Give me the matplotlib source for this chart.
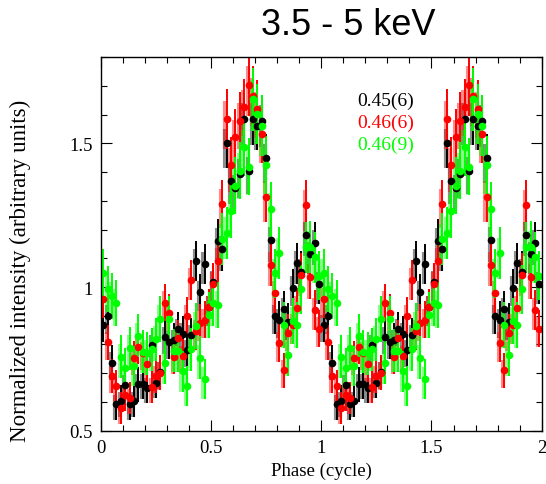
import numpy as np
import matplotlib
matplotlib.use("Agg")
import matplotlib.pyplot as plt
from matplotlib.ticker import MultipleLocator, FormatStrFormatter

# 50 phase bins per cycle, profile repeated over two cycles
nbins = 50
phase = (np.arange(nbins) + 0.5) / nbins

black = [0.868, 0.900, 0.737, 0.592, 0.603, 0.659, 0.592, 0.603, 0.661, 0.664,
         0.650, 0.797, 0.667, 0.704, 0.826, 0.810, 0.815, 0.853, 0.838, 0.780,
         0.832, 1.091, 0.981, 1.080, 0.929, 1.016, 1.161, 1.132, 1.500, 1.370,
         1.343, 1.395, 1.585, 1.405, 1.585, 1.562, 1.579, 1.448, 1.163, 0.900,
         0.886, 0.922, 0.879, 0.998, 1.082, 1.054, 1.182, 1.114, 1.152, 1.010]
black_err = [0.06, 0.065, 0.06, 0.055, 0.055, 0.055, 0.055, 0.055, 0.06, 0.055,
             0.055, 0.06, 0.055, 0.06, 0.06, 0.06, 0.06, 0.06, 0.06, 0.06,
             0.06, 0.07, 0.065, 0.07, 0.065, 0.065, 0.075, 0.075, 0.085, 0.08,
             0.08, 0.085, 0.09, 0.08, 0.09, 0.085, 0.09, 0.085, 0.075, 0.065,
             0.065, 0.065, 0.065, 0.065, 0.07, 0.07, 0.075, 0.07, 0.075, 0.07]

red = [0.958, 0.807, 0.690, 0.656, 0.578, 0.624, 0.613, 0.752, 0.792, 0.772,
       0.731, 0.652, 0.690, 0.702, 0.946, 0.911, 0.757, 0.824, 0.760, 0.900,
       1.024, 0.847, 0.876, 0.886, 0.929, 1.012, 1.090, 1.289, 1.585, 1.426,
       1.521, 1.579, 1.625, 1.704, 1.666, 1.620, 1.533, 1.315, 1.077, 0.980,
       0.805, 0.710, 0.841, 0.867, 0.926, 1.042, 1.284, 1.035, 0.920, 0.855]
red_err = [0.065, 0.06, 0.06, 0.055, 0.055, 0.055, 0.055, 0.06, 0.06, 0.06,
           0.06, 0.055, 0.06, 0.06, 0.065, 0.065, 0.06, 0.06, 0.06, 0.065,
           0.07, 0.065, 0.065, 0.065, 0.065, 0.07, 0.075, 0.085, 0.105, 0.095,
           0.10, 0.10, 0.10, 0.11, 0.105, 0.10, 0.10, 0.09, 0.075, 0.07,
           0.065, 0.06, 0.065, 0.065, 0.07, 0.075, 0.09, 0.075, 0.07, 0.065]

green = [1.048, 0.992, 0.969, 0.946, 0.757, 0.717, 0.787, 0.725, 0.830, 0.774,
         0.769, 0.783, 0.818, 0.888, 0.737, 0.890, 0.778, 0.778, 0.706, 0.656,
         0.783, 0.865, 0.754, 0.679, 0.902, 0.946, 0.938, 1.167, 1.188, 1.265,
         1.353, 1.405, 1.486, 1.419, 1.654, 1.602, 1.562, 1.425, 1.270, 1.048,
         1.118, 0.868, 0.764, 0.882, 0.869, 0.992, 1.138, 1.140, 1.103, 1.039]
green_err = [0.085, 0.08, 0.08, 0.08, 0.075, 0.07, 0.075, 0.07, 0.075, 0.075,
             0.075, 0.075, 0.075, 0.08, 0.075, 0.08, 0.075, 0.075, 0.07, 0.07,
             0.075, 0.08, 0.075, 0.07, 0.08, 0.08, 0.08, 0.09, 0.09, 0.095,
             0.10, 0.10, 0.10, 0.10, 0.11, 0.105, 0.105, 0.10, 0.095, 0.085,
             0.09, 0.08, 0.075, 0.08, 0.08, 0.085, 0.09, 0.09, 0.09, 0.085]

labels = ["0.45(6)", "0.46(6)", "0.46(9)"]
colors = ["black", "#ff0000", "#00ff00"]
series = [(black, black_err), (red, red_err), (green, green_err)]

plt.rcParams['font.family'] = ['Liberation Serif', 'DejaVu Serif']

fig = plt.figure(figsize=(5.46, 4.85), dpi=100)
ax = fig.add_axes([0.185, 0.110, 0.807, 0.770])

x2 = np.concatenate([phase, phase + 1])
for (vals, errs), c in zip(series, colors):
    y2 = np.concatenate([vals, vals])
    e2 = np.concatenate([errs, errs])
    # lighter band beside each error bar
    ax.vlines(x2 - 0.005, y2 - e2, y2 + e2 * 0.6, color=c, lw=3.0, alpha=0.45)
    ax.errorbar(x2, y2, yerr=e2, fmt='o', color=c, ms=5.5, mew=0,
                elinewidth=1.4, capsize=0)

ax.set_xlim(0, 2)
ax.set_ylim(0.5, 1.8)
ax.xaxis.set_major_locator(MultipleLocator(0.5))
ax.xaxis.set_minor_locator(MultipleLocator(0.1))
ax.yaxis.set_major_locator(MultipleLocator(0.5))
ax.yaxis.set_minor_locator(MultipleLocator(0.1))
ax.xaxis.set_major_formatter(FormatStrFormatter('%g'))
ax.yaxis.set_major_formatter(FormatStrFormatter('%g'))
ax.tick_params(which='both', direction='in', top=True, right=True,
               labelsize=13.5, width=0.8)
ax.tick_params(which='major', length=8, pad=6)
ax.tick_params(which='minor', length=4)
for s in ax.spines.values():
    s.set_linewidth(1.0)

ax.set_xlabel("Phase (cycle)", fontsize=13.5, labelpad=4)
ax.set_ylabel("Normalized intensity (arbitrary units)", fontsize=16.5)
ax.yaxis.set_label_coords(-0.158, 0.43)

for i, (lab, c) in enumerate(zip(labels, colors)):
    ax.text(1.165, 1.65 - 0.077 * i, lab, color=c, fontsize=14,
            va='center', ha='left')

fig.text(0.637, 0.948, "3.5 - 5 keV", fontsize=26, ha='center', va='center',
         family=['Liberation Sans', 'DejaVu Sans'])

fig.savefig("out.png", dpi=100)
